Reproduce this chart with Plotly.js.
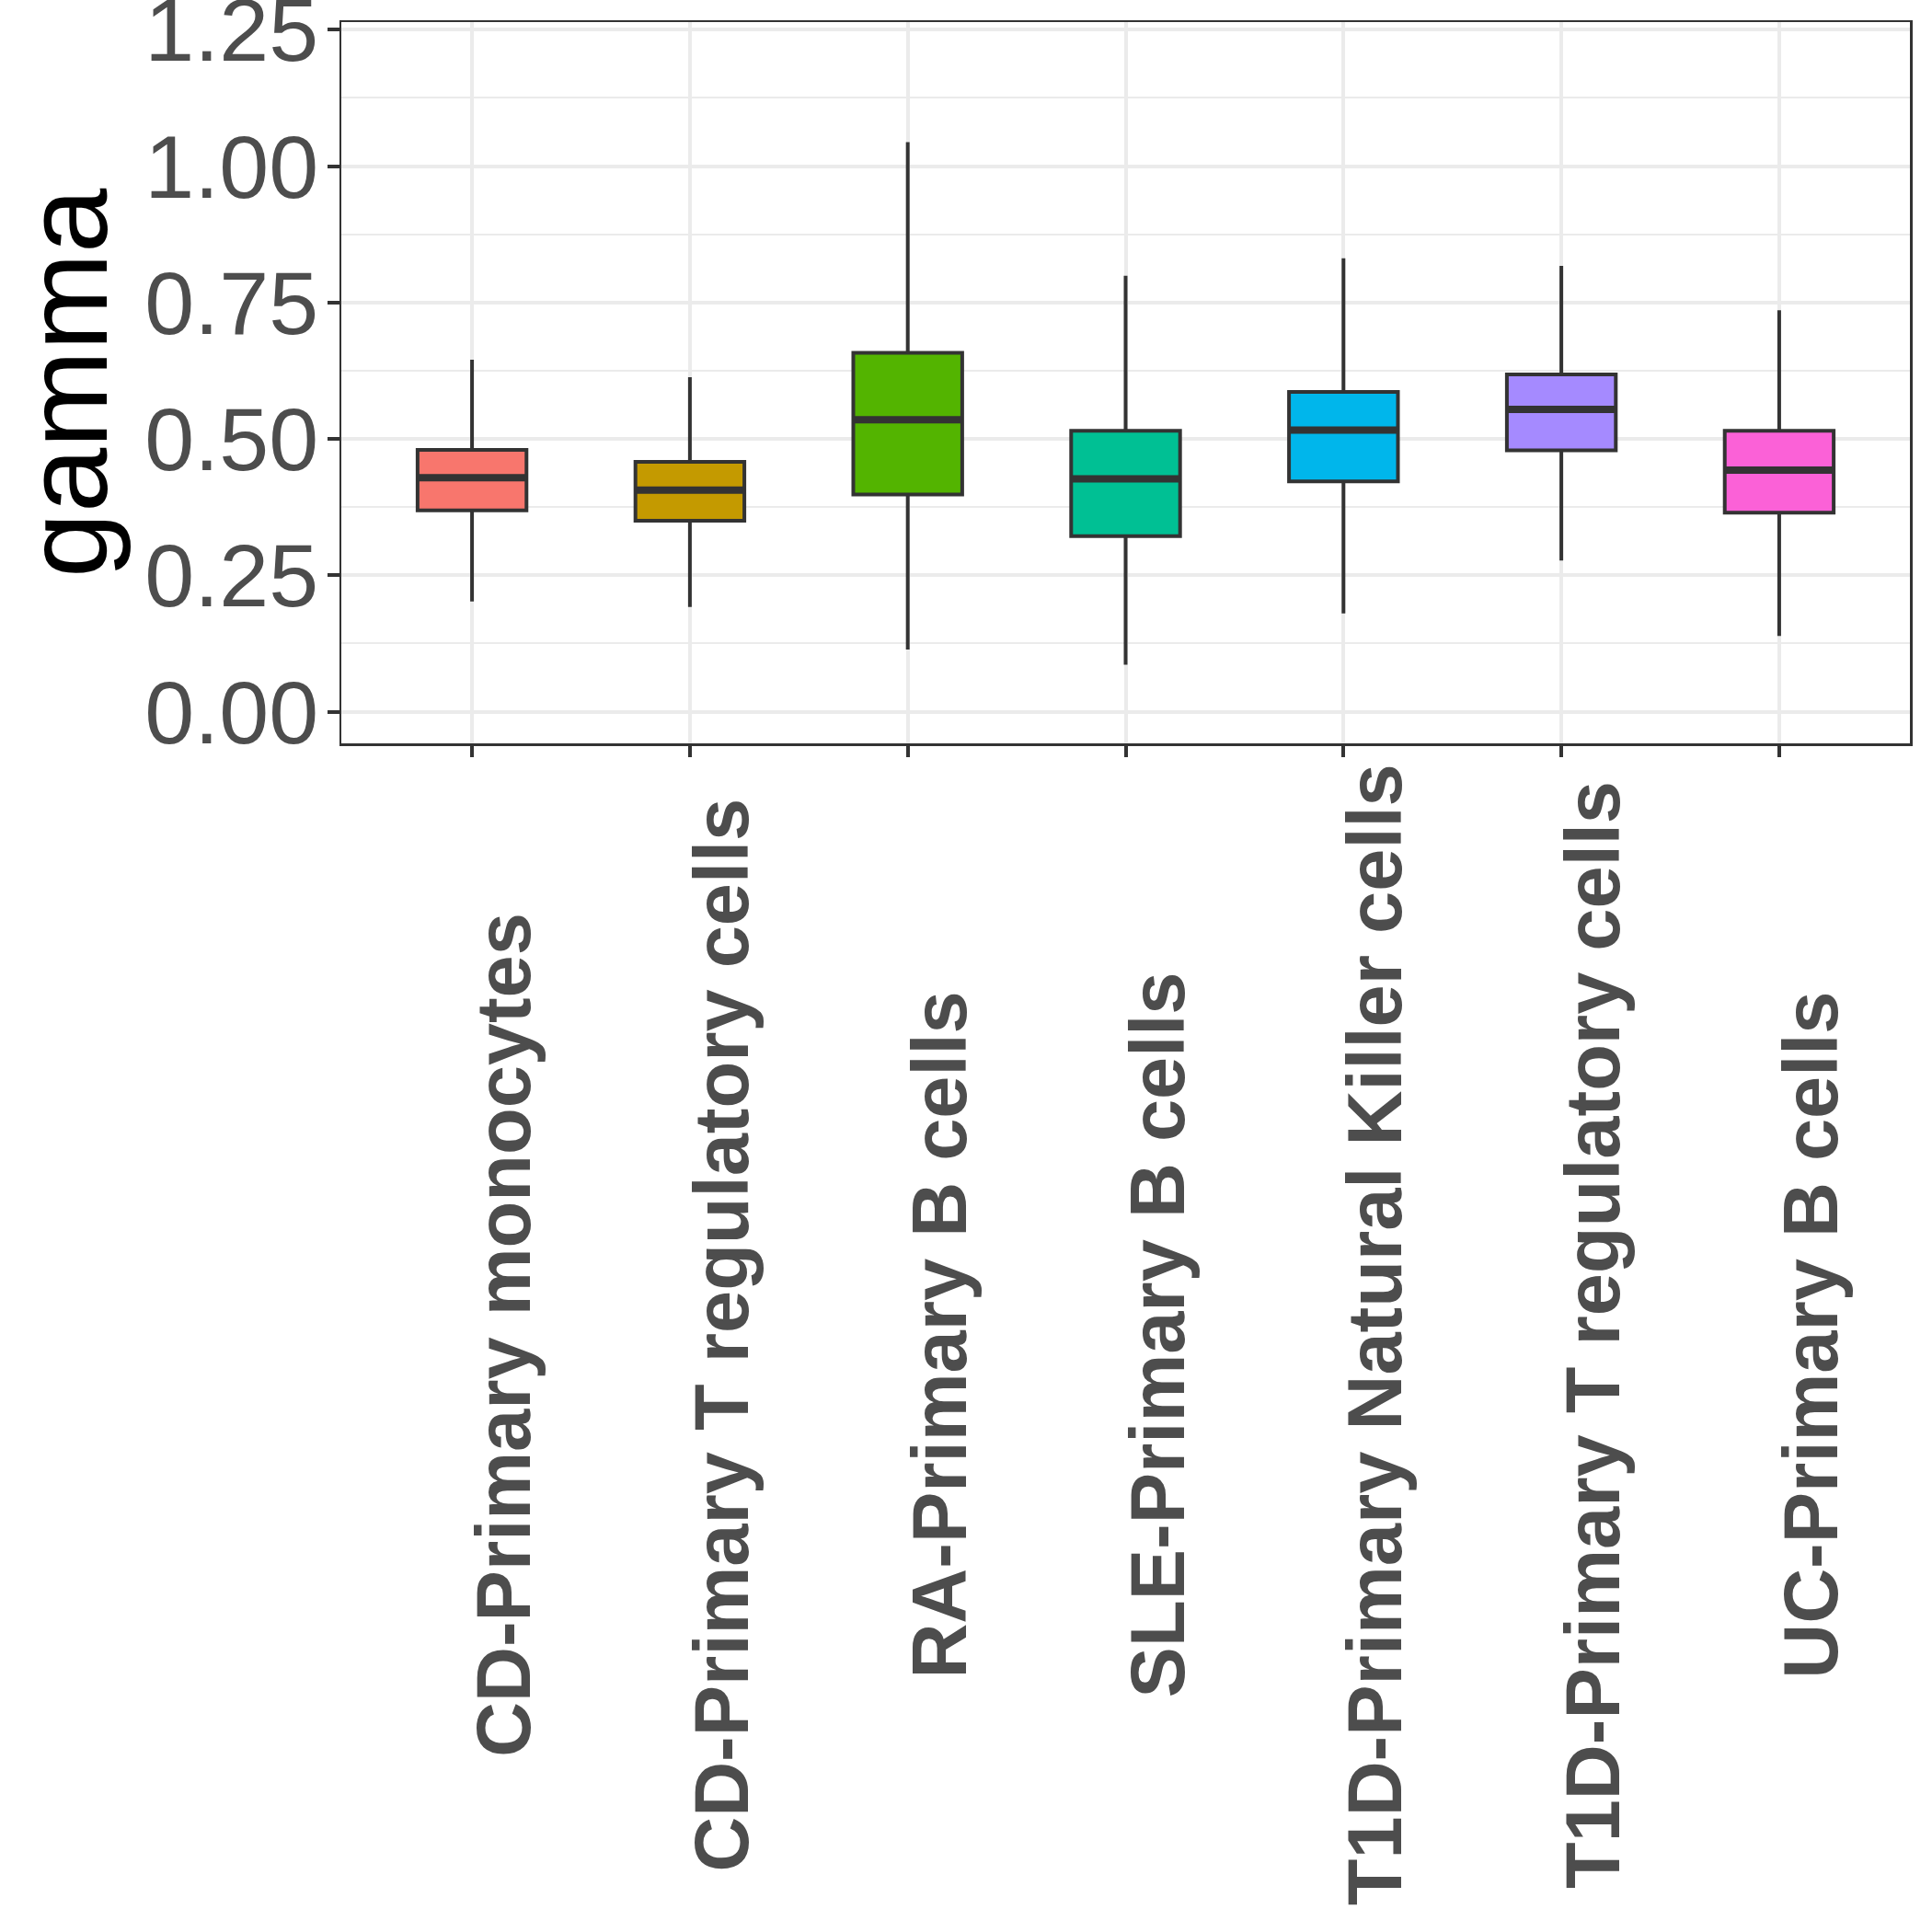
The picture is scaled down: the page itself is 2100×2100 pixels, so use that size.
<!DOCTYPE html>
<html>
<head>
<meta charset="utf-8">
<script src="https://cdn.plot.ly/plotly-3.0.1.min.js"></script>
<style>html,body{margin:0;padding:0;background:#fff;}#chart{width:2100px;height:2100px;}</style>
</head>
<body>
<div id="chart"></div>
<script>
// ---- data ----
const categories = [
  "CD-Primary monocytes",
  "CD-Primary T regulatory cells",
  "RA-Primary B cells",
  "SLE-Primary B cells",
  "T1D-Primary Natural Killer cells",
  "T1D-Primary T regulatory cells",
  "UC-Primary B cells"
];
const lowerWhisker = [0.202, 0.192, 0.114, 0.086, 0.180, 0.277, 0.139];
const q1Values     = [0.369, 0.350, 0.398, 0.322, 0.422, 0.479, 0.365];
const medianValues = [0.429, 0.406, 0.535, 0.427, 0.516, 0.554, 0.443];
const q3Values     = [0.480, 0.458, 0.658, 0.515, 0.586, 0.618, 0.515];
const upperWhisker = [0.645, 0.613, 1.044, 0.799, 0.831, 0.817, 0.736];
const fillColors = ["#F8766D", "#C49A00", "#53B400", "#00C094", "#00B6EB", "#A58AFF", "#FB61D7"];
const yTickVals = [0, 0.25, 0.5, 0.75, 1.0, 1.25];
const yTickText = ["0.00", "0.25", "0.50", "0.75", "1.00", "1.25"];
const yTitle = "gamma";

// ---- traces ----
const BOX_W = 0.5;
const traces = [];
categories.forEach((c, i) => {
  traces.push({
    type: "box",
    name: c,
    x: [i],
    q1: [q1Values[i]],
    median: [medianValues[i]],
    q3: [q3Values[i]],
    lowerfence: [lowerWhisker[i]],
    upperfence: [upperWhisker[i]],
    width: BOX_W,
    whiskerwidth: 0,
    fillcolor: fillColors[i],
    line: {color: "#333333", width: 4},
    boxpoints: false,
    showlegend: false,
    hoverinfo: "skip"
  });
});
categories.forEach((c, i) => {
  traces.push({
    type: "scatter",
    mode: "lines",
    x: [i - BOX_W / 2, i + BOX_W / 2],
    y: [medianValues[i], medianValues[i]],
    line: {color: "#333333", width: 8},
    showlegend: false,
    hoverinfo: "skip"
  });
});

// ---- annotations: x labels (centered, rotated) + y title ----
const annotations = categories.map((c, i) => ({
  text: "<b>" + c + "</b>",
  x: i, xref: "x",
  y: -0.82, yref: "paper",
  xanchor: "center", yanchor: "middle",
  xshift: 35,
  textangle: -90,
  showarrow: false,
  font: {family: "Liberation Sans, Arial, sans-serif", size: 83, color: "#4D4D4D"}
}));
annotations.push({
  text: yTitle,
  x: 0, xref: "paper",
  y: 0.5, yref: "paper",
  xanchor: "center", yanchor: "middle",
  xshift: -299,
  textangle: -90,
  showarrow: false,
  font: {family: "Liberation Sans, Arial, sans-serif", size: 127, color: "#000000"}
});

const layout = {
  width: 2100, height: 2100,
  margin: {l: 371, r: 24, t: 24, b: 1292, pad: 0},
  paper_bgcolor: "#FFFFFF",
  plot_bgcolor: "#FFFFFF",
  boxmode: "overlay",
  showlegend: false,
  font: {family: "Liberation Sans, Arial, sans-serif", color: "#4D4D4D"},
  xaxis: {
    range: [-0.6, 6.6],
    tickvals: categories.map((c, i) => i),
    ticktext: categories,
    showticklabels: false,
    ticks: "outside", ticklen: 12, tickwidth: 4, tickcolor: "#333333",
    showgrid: true, gridcolor: "#EBEBEB", gridwidth: 4,
    zeroline: false,
    showline: true, mirror: true, linecolor: "#333333", linewidth: 2.5
  },
  yaxis: {
    range: [-0.058, 1.264],
    tickvals: yTickVals,
    ticktext: yTickText,
    ticks: "outside", ticklen: 13, tickwidth: 4, tickcolor: "#333333",
    ticklabelstandoff: -10,
    ticklabeloverflow: "allow",
    tickfont: {family: "Liberation Sans, Arial, sans-serif", size: 97, color: "#4D4D4D"},
    showgrid: true, gridcolor: "#EBEBEB", gridwidth: 4,
    minor: {dtick: 0.125, tick0: 0, showgrid: true, gridcolor: "#EBEBEB", gridwidth: 2, ticks: ""},
    zeroline: false,
    showline: true, mirror: true, linecolor: "#333333", linewidth: 2.5
  },
  annotations: annotations
};

Plotly.newPlot("chart", traces, layout, {staticPlot: true, displayModeBar: false});
</script>
</body>
</html>
